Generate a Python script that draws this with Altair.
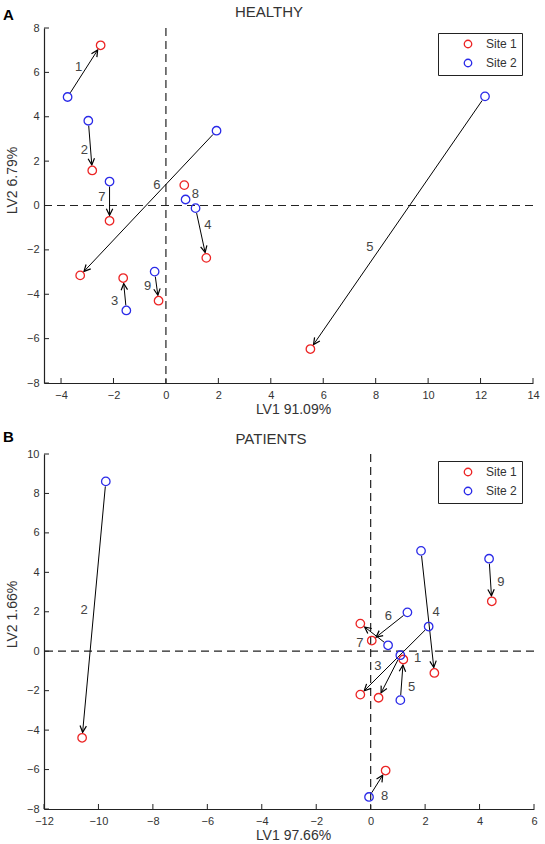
import math
import altair as alt
import pandas as pd

FONT = "Liberation Sans"
RED = "#ec2424"
BLUE = "#2a2ae8"

# ---------------- Panel A: HEALTHY ----------------
a_ids = [1, 2, 3, 4, 5, 6, 7, 8, 9]
a_s2_x = [-3.75, -2.96, -1.51, 1.13, 12.17, 1.93, -2.15, 0.75, -0.43]
a_s2_y = [4.89, 3.82, -4.73, -0.12, 4.92, 3.37, 1.08, 0.27, -2.98]
a_s1_x = [-2.49, -2.81, -1.63, 1.54, 5.51, -3.27, -2.15, 0.70, -0.28]
a_s1_y = [7.22, 1.58, -3.27, -2.36, -6.47, -3.15, -0.69, 0.92, -4.29]
a_lab_x = [-3.33, -3.11, -1.96, 1.60, 7.78, -0.35, -2.44, 1.12, -0.70]
a_lab_y = [6.24, 2.50, -4.32, -0.90, -1.88, 0.93, 0.37, 0.53, -3.64]
a_xdom = [-4.65, 14]
a_ydom = [-8, 8]
a_xticks = [-4, -2, 0, 2, 4, 6, 8, 10, 12, 14]
a_yticks = [-8, -6, -4, -2, 0, 2, 4, 6, 8]

# ---------------- Panel B: PATIENTS ----------------
b_ids = [1, 2, 3, 4, 5, 6, 7, 8, 9]
b_s2_x = [1.09, -9.73, 2.13, 1.85, 1.09, 1.35, 0.64, -0.06, 4.35]
b_s2_y = [-0.20, 8.61, 1.25, 5.09, -2.48, 1.97, 0.30, -7.39, 4.69]
b_s1_x = [0.29, -10.60, -0.38, 2.34, 1.20, 0.04, -0.38, 0.55, 4.45]
b_s1_y = [-2.36, -4.39, -2.20, -1.10, -0.42, 0.54, 1.40, -6.05, 2.53]
b_lab_x = [1.72, -10.53, 0.26, 2.40, 1.50, 0.65, -0.40, 0.51, 4.78]
b_lab_y = [-0.32, 2.09, -0.74, 2.00, -1.79, 1.80, 0.40, -7.36, 3.51]
b_xdom = [-12, 6]
b_ydom = [-8, 10]
b_xticks = [-12, -10, -8, -6, -4, -2, 0, 2, 4, 6]
b_yticks = [-8, -6, -4, -2, 0, 2, 4, 6, 8, 10]

W = 489
H = 355
HEAD = "M-6.5,-3.2L0,0L-6.5,3.2"


def arrow_table(ids, x2, y2, x1, y1, xdom, ydom, w, h, r0=5.0, r1=5.5):
    sx = w / (xdom[1] - xdom[0])
    sy = h / (ydom[1] - ydom[0])
    rows = []
    for i, a, b, c, d in zip(ids, x2, y2, x1, y1):
        dxp = (c - a) * sx
        dyp = (d - b) * sy
        L = math.hypot(dxp, dyp)
        if L < 2 * r0 + 8:
            continue
        ux, uy = dxp / L, dyp / L
        rows.append(dict(id=i,
                         xs=a + ux * r0 / sx, ys=b + uy * r0 / sy,
                         xe=c - ux * r1 / sx, ye=d - uy * r1 / sy,
                         ang=math.degrees(math.atan2(-dyp, dxp)) % 360))
    return pd.DataFrame(rows)


def panel(ids, s2x, s2y, s1x, s1y, lx, ly, xdom, ydom, xticks, yticks,
          w, h, xtitle, ytitle, ytitle_y, title, title_x, title_y,
          letter, letter_y, leg_y):
    xs = alt.Scale(domain=xdom, nice=False, zero=False)
    ys = alt.Scale(domain=ydom, nice=False, zero=False)
    xax = alt.Axis(values=xticks, title=xtitle, titleX=249, titleY=26,
                   titleBaseline="middle", titleAlign="center")
    yax = alt.Axis(values=yticks, title=ytitle, titleX=-32, titleY=ytitle_y,
                   titleBaseline="middle", titleAlign="center", titleAngle=270)

    def X(f):
        return alt.X(f, scale=xs, axis=xax, title=xtitle)

    def Y(f):
        return alt.Y(f, scale=ys, axis=yax, title=ytitle)

    pts = pd.DataFrame({
        "id": ids + ids,
        "site": ["Site 1"] * len(ids) + ["Site 2"] * len(ids),
        "x": s1x + s2x,
        "y": s1y + s2y,
    })
    arr = arrow_table(ids, s2x, s2y, s1x, s1y, xdom, ydom, w, h)
    labs = pd.DataFrame({"id": [str(i) for i in ids], "x": lx, "y": ly})

    zero = alt.Chart(pd.DataFrame({"v": [0]}))
    vline = zero.mark_rule(color="#222", strokeWidth=1.2, strokeDash=[8, 5]).encode(x=X("v:Q"))
    hline = zero.mark_rule(color="#222", strokeWidth=1.2, strokeDash=[8, 5]).encode(y=Y("v:Q"))

    xt = alt.Chart(pd.DataFrame({"t": xticks})).mark_rule(color="#222", strokeWidth=1).encode(
        x=X("t:Q"), y=alt.value(h), y2=alt.value(h - 5))
    yt = alt.Chart(pd.DataFrame({"t": yticks})).mark_rule(color="#222", strokeWidth=1).encode(
        y=Y("t:Q"), x=alt.value(0), x2=alt.value(5))

    lines = alt.Chart(arr).mark_rule(color="black", strokeWidth=1).encode(
        x=X("xs:Q"), y=Y("ys:Q"), x2="xe:Q", y2="ye:Q")
    heads = alt.Chart(arr).mark_point(shape=HEAD, size=4, filled=False, color="black",
                                       strokeWidth=1.2, opacity=1).encode(
        x=X("xe:Q"), y=Y("ye:Q"), angle=alt.Angle("ang:Q", scale=None))

    points = alt.Chart(pts).mark_point(filled=False, size=72, strokeWidth=1.3, opacity=1).encode(
        x=X("x:Q"),
        y=Y("y:Q"),
        color=alt.Color("site:N",
                        scale=alt.Scale(domain=["Site 1", "Site 2"], range=[RED, BLUE]),
                        legend=alt.Legend(orient="none", legendX=394, legendY=leg_y, title=None,
                                          padding=5, strokeColor="#222", fillColor="white",
                                          symbolOffset=19, labelOffset=12, rowPadding=5,
                                          symbolType="circle", symbolSize=56,
                                          symbolStrokeWidth=1.3, labelFontSize=12,
                                          labelFont=FONT, labelColor="#333",
                                          labelExpr="datum.label + '    '")),
    )

    texts = alt.Chart(labs).mark_text(font=FONT, fontSize=13, color="#444",
                                      align="center", baseline="middle").encode(
        x=X("x:Q"), y=Y("y:Q"), text="id:N")

    ttl = alt.Chart(pd.DataFrame({"t": [title]})).mark_text(
        font=FONT, fontSize=15, color="#333", align="center", baseline="middle").encode(
        text="t:N", x=alt.value(title_x), y=alt.value(title_y))
    let = alt.Chart(pd.DataFrame({"t": [letter]})).mark_text(
        font=FONT, fontSize=15, fontWeight="bold", color="black", align="left",
        baseline="middle").encode(text="t:N", x=alt.value(-41), y=alt.value(letter_y))

    return alt.layer(vline, hline, xt, yt, lines, heads, points, texts, ttl, let).properties(
        width=w, height=h)


A = panel(a_ids, a_s2_x, a_s2_y, a_s1_x, a_s1_y, a_lab_x, a_lab_y, a_xdom, a_ydom,
          a_xticks, a_yticks, W, H, "LV1 91.09%", "LV2 6.79%", 152,
          "HEALTHY", 225, -16, "A", -13, 5)
B = panel(b_ids, b_s2_x, b_s2_y, b_s1_x, b_s1_y, b_lab_x, b_lab_y, b_xdom, b_ydom,
          b_xticks, b_yticks, 490, H, "LV1 97.66%", "LV2 1.66%", 160,
          "PATIENTS", 227, -15, "B", -17, 7)

chart = alt.vconcat(A, B, spacing=71, bounds="flush").resolve_scale(
    x="independent", y="independent", color="independent"
).resolve_legend(color="independent").configure(
    padding={"left": 3, "top": 5, "right": 0, "bottom": 0}, background="white"
).configure_view(stroke=None).configure_axis(
    grid=False, ticks=False, tickSize=0, domainColor="#222", domainWidth=1.2,
    labelFont=FONT, labelFontSize=11, labelColor="#333", labelPadding=6,
    labelFlush=False, labelOverlap=False,
    titleFont=FONT, titleFontSize=14, titleColor="#333", titleFontWeight="normal"
).configure_axisY(labelPadding=5)

chart.save("out.html", embed_options={"renderer": "svg", "actions": False})
